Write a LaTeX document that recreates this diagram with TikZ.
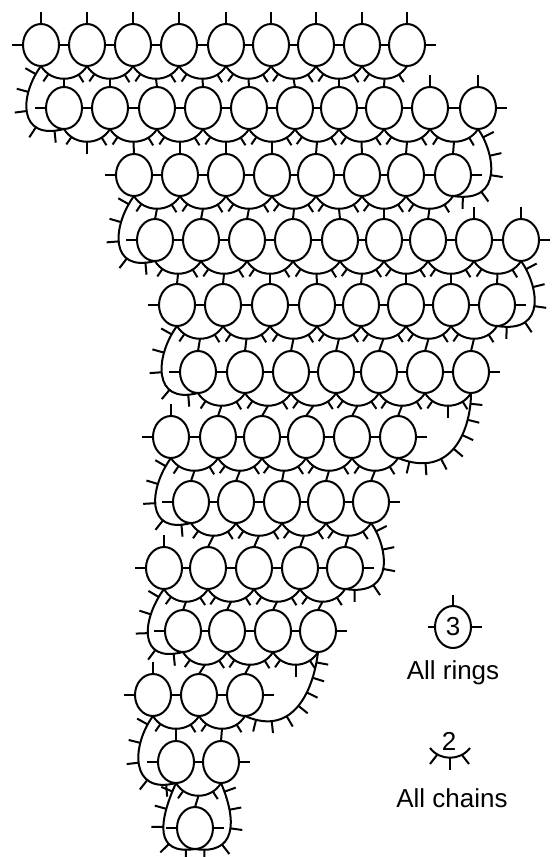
\documentclass[tikz,border=0pt]{standalone}
\usepackage{fontspec}
\setmainfont{Liberation Sans}
\usetikzlibrary{shapes.geometric}
\usetikzlibrary{decorations.markings}

\newcommand{\ringrow}[3]{%
  \foreach \xx [count=\i, remember=\i as \last (initially 0)] in {#3} {
    \node[ringnode] (r#1-\i) at (\xx,#2) {};
    \ifnum\i>1
      \draw (r#1-\last.east) -- (r#1-\i.west);
      \draw[shortchain] (r#1-\last.south) .. controls +(10,17) and +(-10,17) .. coordinate[pos=0.5] (c#1-\last) (r#1-\i.south);
    \fi
  }
}

\begin{document}
\begin{tikzpicture}[
    x=1pt, y=-1pt, line width=2pt,
    ringnode/.style={draw, ellipse, minimum width=36pt, minimum height=42pt, inner sep=0pt, outer sep=0pt},
    shortchain/.style={postaction={decorate},
      decoration={markings,
        mark=at position 0.2 with {\draw (0pt,0pt) -- (0pt,-9pt);},
        mark=at position 0.78 with {\draw (0pt,0pt) -- (0pt,-9pt);}}},
    longchain/.style={postaction={decorate},
      decoration={markings,
        mark=between positions 0.1 and 0.93 step #1 with {\draw (0pt,0pt) -- (0pt,-12pt);}}},
    legendtext/.style={font=\fontsize{26}{26}\selectfont, inner sep=0pt}
  ]
\useasboundingbox (0,0) rectangle (558,857);

% rows of rings, top to bottom
\ringrow{1}{45}{41,87,133,179,226,271,316,362,407}
\ringrow{2}{108}{64,110,157,203,249,295,339,384,430,478}
\ringrow{3}{175}{134,180,226,272,316,362,406,453}
\ringrow{4}{240}{155,201,247,293,340,384,428,474,521}
\ringrow{5}{305}{177,223,270,317,361,406,451,497}
\ringrow{6}{372}{198,245,291,336,379,425,471}
\ringrow{7}{437}{171,218,262,306,352,398}
\ringrow{8}{502}{191,236,282,326,371}
\ringrow{9}{568}{164,208,254,300,345}
\ringrow{10}{631}{183,227,273,318}
\ringrow{11}{695}{153,199,245}
\ringrow{12}{762}{176,221}
\ringrow{13}{828}{195}

% side picots
\foreach \rn/\nn in {1/9,2/10,3/8,4/9,5/8,6/7,7/6,8/5,9/5,10/4,11/3,12/2,13/1} {
  \draw (r\rn-1.west) -- ++(-11,0);
  \draw (r\rn-\nn.east) -- ++(11,0);
}
% free top picots
\foreach \ring in {r1-1,r1-2,r1-3,r1-4,r1-5,r1-6,r1-7,r1-8,r1-9,r2-9,r2-10,r4-8,r4-9,r7-1,r9-1,r11-1}
  \draw (\ring.north) -- ++(0,-12);
% free chain picots
\foreach \ch in {c2-1,c6-6,c10-3}
  \draw (\ch) -- ++(0,12);
% rings joined to the chain above
\foreach \rn/\un/\a/\b/\off in {2/1/1/8/0,3/2/1/8/1,4/3/1/7/0,5/4/1/8/0,6/5/1/7/0,7/6/2/6/-1,8/7/1/5/0,9/8/2/5/-1,10/9/1/4/0,11/10/2/3/-1,12/11/1/2/0,13/12/1/1/0}
  \foreach \i in {\a,...,\b} {
    \pgfmathtruncatemacro{\ci}{\i+\off}
    \draw (r\rn-\i.north) -- (c\un-\ci);
  }

% long chains on the left
\foreach \up/\dn in {1/2,3/4,5/6,7/8,9/10,11/12}
  \draw[longchain=0.2] (r\up-1.south) .. controls +(-22,30) and +(-46,12) .. (r\dn-1.south);
% long chains on the right
\draw[longchain=0.2] (r3-8.south) .. controls +(52,8) and +(16,22) .. (r2-10.south);
\draw[longchain=0.2] (r5-8.south) .. controls +(52,8) and +(16,22) .. (r4-9.south);
\draw[longchain=0.2] (r9-5.south) .. controls +(52,8) and +(16,22) .. (r8-5.south);
\draw[longchain=0.135] (r7-6.south) .. controls +(55,22) and +(0,35) .. (r6-7.south);
\draw[longchain=0.135] (r11-3.south) .. controls +(50,22) and +(-4,35) .. (r10-4.south);
% around the last ring
\draw[longchain=0.2] (r12-1.south) .. controls +(-18,40) and +(-40,6) .. (r13-1.south);
\draw[longchain=0.2] (r13-1.south) .. controls +(40,6) and +(17,40) .. (r12-2.south);

% legend
\node[ringnode, legendtext] (legring) at (453,627) {3};
\draw (legring.north) -- ++(0,-11);
\draw (legring.west) -- ++(-7,0);
\draw (legring.east) -- ++(11,0);
\node[legendtext] (ringtext) at (453,673) {All rings};
\coordinate (legl) at (430,748); \coordinate (legr) at (470,748);
\draw (legl) .. controls +(10,13) and +(-10,13) .. coordinate[pos=0.5] (legm) (legr);
\draw (legm) -- ++(0,12);
\draw (437,755) -- ++(-7,9);
\draw (462,755) -- ++(7,9);
\node[legendtext] (chainnum) at (449,741) {2};
\node[legendtext] (chaintext) at (452,798) {All chains};
\end{tikzpicture}
\end{document}
